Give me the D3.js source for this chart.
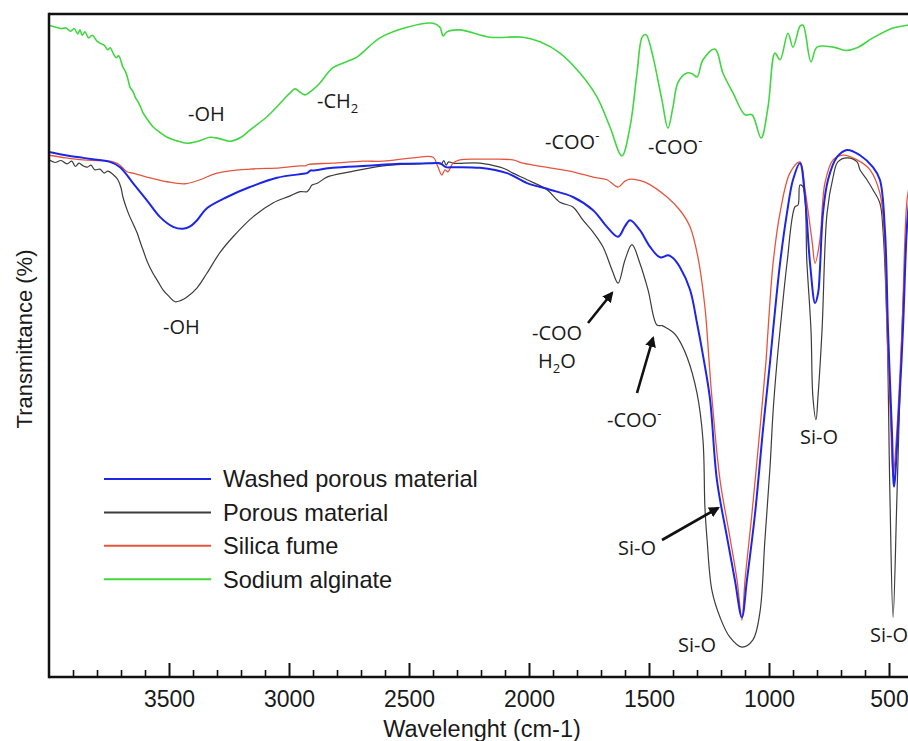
<!DOCTYPE html>
<html>
<head>
<meta charset="utf-8">
<script src="https://cdn.jsdelivr.net/npm/d3@7/dist/d3.min.js"></script>
<style>
  html, body { margin: 0; padding: 0; background: #fff; }
  svg { display: block; }
</style>
</head>
<body>
<svg id="chart" width="908" height="741"></svg>
<script>
// ---------------- DATA (wavenumber cm-1, transmittance %) ----------------
const seriesNames = ["Washed porous material", "Porous material", "Silica fume", "Sodium alginate"];

const sodiumAlginate = [
  [4000, 98.3], [3970, 98.0], [3950, 97.8], [3930, 97.9], [3910, 97.4], [3895, 97.8], [3880, 97.0],
  [3871, 97.6], [3862, 96.8], [3850, 97.3], [3835, 96.4], [3820, 96.8], [3800, 95.9], [3788, 95.6],
  [3770, 95.3], [3755, 94.6], [3745, 94.9], [3733, 94.1], [3720, 93.4], [3710, 93.7], [3692, 92.0],
  [3680, 91.2], [3670, 90.0], [3663, 89.0], [3650, 88.3], [3640, 87.4], [3633, 87.0], [3620, 86.1],
  [3608, 85.1], [3590, 84.1], [3567, 83.0], [3540, 82.2], [3508, 81.4], [3470, 80.9], [3425, 80.5],
  [3380, 80.8], [3329, 81.4], [3290, 81.2], [3246, 80.8], [3200, 81.4], [3163, 82.5], [3092, 84.5],
  [3025, 87.0], [2990, 88.3], [2975, 88.7], [2950, 88.1], [2933, 87.8], [2900, 88.6], [2871, 89.6],
  [2817, 91.9], [2760, 92.8], [2717, 93.5], [2621, 96.4], [2508, 98.0], [2400, 98.6], [2371, 98.0],
  [2358, 96.7], [2342, 97.3], [2288, 97.6], [2163, 96.5], [2025, 96.5], [1954, 95.8], [1871, 94.1],
  [1788, 91.1], [1717, 87.5], [1663, 83.0], [1613, 78.6], [1579, 83.0], [1550, 91.1], [1529, 96.5],
  [1515, 96.9], [1508, 96.7], [1483, 93.5], [1446, 87.0], [1421, 82.8], [1400, 86.0], [1379, 89.7],
  [1342, 91.1], [1320, 91.0], [1300, 90.5], [1275, 93.1], [1225, 94.7], [1192, 91.1], [1150, 88.1],
  [1100, 84.8], [1071, 84.8], [1033, 81.3], [1004, 86.0], [975, 94.1], [954, 93.1], [921, 97.1],
  [900, 95.0], [870, 98.2], [858, 98.3], [825, 92.8], [800, 95.0], [733, 95.0], [680, 94.5],
  [633, 94.9], [567, 96.4], [483, 97.9], [425, 98.3], [400, 98.5]
];

const porousMaterial = [
  [4000, 78.0], [3975, 77.6], [3950, 77.9], [3925, 77.4], [3905, 77.8], [3890, 77.0], [3875, 77.5],
  [3858, 77.1], [3840, 76.9], [3825, 77.2], [3810, 76.5], [3788, 76.6], [3770, 76.0], [3755, 76.3],
  [3733, 75.8], [3713, 75.0], [3700, 73.8], [3692, 72.4], [3675, 70.5], [3663, 69.4], [3645, 68.0],
  [3633, 67.0], [3620, 65.6], [3608, 64.4], [3590, 62.6], [3567, 60.9], [3545, 59.6], [3525, 58.4],
  [3500, 57.4], [3475, 56.6], [3450, 56.8], [3425, 57.3], [3383, 58.7], [3342, 60.9], [3288, 64.0],
  [3233, 66.4], [3150, 69.4], [3067, 71.5], [3000, 72.5], [2954, 73.2], [2925, 73.2], [2915, 73.6],
  [2904, 74.2], [2880, 74.5], [2842, 75.4], [2746, 76.2], [2608, 77.1], [2467, 77.4], [2383, 77.5],
  [2365, 77.4], [2355, 77.9], [2345, 77.2], [2335, 77.7], [2317, 77.5], [2204, 77.5], [2121, 76.9],
  [2092, 76.5], [2067, 76.0], [2008, 75.0], [1925, 73.5], [1871, 71.6], [1817, 70.9], [1775, 68.9],
  [1733, 67.1], [1692, 64.9], [1654, 61.4], [1629, 59.4], [1600, 62.9], [1571, 65.2], [1538, 62.4],
  [1504, 58.4], [1467, 53.1], [1445, 53.0], [1425, 52.6], [1400, 52.0], [1383, 51.3], [1342, 48.3],
  [1300, 42.8], [1275, 35.7], [1267, 25.6], [1258, 20.7], [1238, 13.1], [1204, 9.0], [1163, 6.0],
  [1113, 4.5], [1067, 5.6], [1038, 9.7], [1017, 20.7], [996, 31.5], [983, 40.0], [967, 47.4],
  [954, 52.3], [925, 62.4], [892, 70.9], [879, 71.2], [871, 74.2], [858, 73.9], [842, 62.4],
  [825, 52.3], [817, 42.2], [804, 38.8], [796, 42.2], [779, 52.3], [758, 70.0], [733, 75.4],
  [713, 77.7], [675, 78.3], [633, 77.7], [621, 76.5], [592, 75.0], [567, 73.5], [538, 71.5],
  [525, 67.4], [508, 52.3], [496, 27.1], [483, 9.0], [467, 27.1], [446, 52.3], [425, 68.0], [410, 74.0]
];

const washedPorousMaterial = [
  [4000, 79.2], [3930, 78.7], [3858, 78.3], [3800, 78.0], [3746, 77.7], [3704, 76.9], [3650, 74.5],
  [3592, 71.9], [3538, 69.4], [3483, 67.9], [3442, 67.6], [3410, 68.0], [3383, 68.9], [3342, 70.7],
  [3258, 72.4], [3163, 73.9], [3050, 75.3], [2940, 75.9], [2925, 76.0], [2910, 76.4], [2900, 76.4],
  [2817, 76.8], [2675, 77.1], [2538, 77.4], [2400, 77.5], [2371, 77.5], [2345, 76.9], [2317, 76.9],
  [2204, 76.8], [2092, 76.0], [2008, 74.5], [1913, 73.5], [1817, 72.4], [1733, 70.4], [1675, 67.9],
  [1629, 66.4], [1600, 68.0], [1579, 68.9], [1538, 67.4], [1496, 64.9], [1454, 63.3], [1420, 63.6],
  [1400, 63.2], [1371, 61.8], [1329, 58.4], [1300, 53.4], [1275, 48.5], [1246, 42.0], [1217, 29.7],
  [1175, 21.1], [1142, 14.6], [1113, 9.0], [1092, 14.6], [1058, 24.7], [1025, 37.3], [996, 47.4],
  [983, 52.3], [954, 62.4], [925, 70.0], [900, 75.0], [871, 77.5], [850, 72.4], [829, 62.4],
  [808, 56.4], [795, 58.0], [788, 61.4], [775, 70.0], [754, 75.0], [717, 78.4], [675, 79.5],
  [621, 78.7], [567, 76.9], [538, 75.0], [517, 67.4], [504, 52.3], [488, 37.3], [479, 28.7],
  [463, 37.3], [442, 52.3], [425, 68.0], [410, 74.0]
];

const silicaFume = [
  [4000, 78.7], [3930, 78.3], [3858, 78.0], [3790, 77.9], [3733, 77.7], [3704, 77.2], [3675, 76.2],
  [3650, 76.0], [3620, 75.7], [3579, 75.3], [3508, 74.7], [3433, 74.4], [3371, 75.0], [3300, 76.0],
  [3163, 76.6], [3038, 76.8], [2954, 77.1], [2930, 77.1], [2921, 77.3], [2817, 77.5], [2692, 77.8],
  [2608, 77.8], [2483, 78.3], [2400, 78.4], [2379, 76.9], [2363, 75.7], [2350, 76.5], [2338, 76.2],
  [2317, 77.5], [2288, 78.0], [2204, 78.1], [2163, 78.1], [2067, 78.0], [2025, 77.5], [1913, 76.8],
  [1817, 76.2], [1733, 75.4], [1675, 75.0], [1629, 73.9], [1600, 74.8], [1579, 75.1], [1540, 74.9],
  [1508, 74.5], [1425, 72.4], [1371, 70.4], [1329, 67.9], [1296, 63.3], [1267, 55.8], [1250, 47.8],
  [1238, 42.2], [1204, 29.7], [1163, 21.1], [1133, 14.6], [1113, 8.6], [1100, 14.6], [1071, 24.7],
  [1038, 37.3], [1013, 47.4], [1004, 52.3], [983, 62.4], [954, 70.0], [913, 76.0], [871, 77.7],
  [850, 73.5], [821, 65.9], [808, 62.4], [788, 65.9], [767, 74.5], [733, 78.0], [692, 78.7],
  [633, 78.0], [579, 76.5], [538, 73.0], [521, 67.4], [508, 52.3], [492, 37.3], [483, 30.2],
  [467, 37.3], [446, 52.3], [425, 71.9], [410, 75.0]
];

const majorTicks = [3500, 3000, 2500, 2000, 1500, 1000, 500];
const minorTicks = [3900, 3800, 3700, 3600, 3400, 3300, 3200, 3100, 2900, 2800, 2700, 2600,
                    2400, 2300, 2200, 2100, 1900, 1800, 1700, 1600, 1400, 1300, 1200, 1100,
                    900, 800, 700, 600];
const xTitle = "Wavelenght (cm-1)";
const yTitle = "Transmittance (%)";

// ---------------- LAYOUT / STYLE ----------------
const W = 908, H = 741;
const plot = { left: 49, top: 14, right: 913, bottom: 677 };
const colors = {
  "Washed porous material": "#1e26e6",
  "Porous material": "#3c3c3c",
  "Silica fume": "#e5553e",
  "Sodium alginate": "#42d642"
};
const widths = {
  "Washed porous material": 2.0,
  "Porous material": 1.2,
  "Silica fume": 1.3,
  "Sodium alginate": 1.6
};
const dataByName = {
  "Washed porous material": washedPorousMaterial,
  "Porous material": porousMaterial,
  "Silica fume": silicaFume,
  "Sodium alginate": sodiumAlginate
};
const drawOrder = ["Sodium alginate", "Porous material", "Silica fume", "Washed porous material"];
const sansFont = "'Liberation Sans', Arial, Helvetica, sans-serif";
const annoFont = "'Open Sans', 'Noto Sans', sans-serif";

const svg = d3.select("#chart");

const x = d3.scaleLinear().domain([4000, 400]).range([plot.left, plot.right]);
const y = d3.scaleLinear().domain([0, 100]).range([plot.bottom, plot.top]);

svg.append("defs").append("clipPath").attr("id", "clip")
  .append("rect")
  .attr("x", plot.left).attr("y", plot.top)
  .attr("width", plot.right - plot.left).attr("height", plot.bottom - plot.top);

const line = d3.line()
  .x(d => x(d[0]))
  .y(d => y(d[1]))
  .curve(d3.curveCatmullRom.alpha(0.5));

const gLines = svg.append("g").attr("clip-path", "url(#clip)");
drawOrder.forEach(name => {
  gLines.append("path")
    .datum(dataByName[name])
    .attr("d", line)
    .attr("fill", "none")
    .attr("stroke", colors[name])
    .attr("stroke-width", widths[name])
    .attr("stroke-linejoin", "round");
});

// ---------------- AXES ----------------
const gMinor = svg.append("g").attr("transform", `translate(0,${plot.bottom})`)
  .call(d3.axisBottom(x).tickValues(minorTicks).tickSize(-7).tickFormat(""));
gMinor.select(".domain").remove();
gMinor.selectAll("line").attr("stroke", "#111").attr("stroke-width", 1.6);

const gMajor = svg.append("g").attr("transform", `translate(0,${plot.bottom})`)
  .call(d3.axisBottom(x).tickValues(majorTicks).tickSize(-14).tickFormat(d3.format("d")));
gMajor.select(".domain").remove();
gMajor.selectAll("line").attr("stroke", "#111").attr("stroke-width", 2);
gMajor.selectAll("text")
  .attr("y", 30).attr("dy", 0)
  .attr("fill", "#1a1a1a")
  .style("font-family", sansFont)
  .style("font-size", "23px");

// frame
svg.append("line").attr("x1", plot.left).attr("x2", W).attr("y1", plot.top).attr("y2", plot.top)
  .attr("stroke", "#111").attr("stroke-width", 2.5);
svg.append("line").attr("x1", plot.left).attr("x2", plot.left).attr("y1", plot.top - 1.2).attr("y2", plot.bottom + 1.2)
  .attr("stroke", "#111").attr("stroke-width", 2.5);
svg.append("line").attr("x1", plot.left).attr("x2", W).attr("y1", plot.bottom).attr("y2", plot.bottom)
  .attr("stroke", "#111").attr("stroke-width", 2.5);

// titles
svg.append("text").attr("x", 482).attr("y", 737).attr("text-anchor", "middle")
  .style("font-family", sansFont).style("font-size", "23.5px").attr("fill", "#1a1a1a")
  .text(xTitle);
svg.append("text").attr("transform", "translate(32,339) rotate(-90)").attr("text-anchor", "middle")
  .style("font-family", sansFont).style("font-size", "22px").attr("fill", "#1a1a1a")
  .text(yTitle);

// ---------------- LEGEND ----------------
const legend = { x1: 104, x2: 211, textX: 223, y0: 479, step: 33.4 };
seriesNames.forEach((name, i) => {
  const ly = legend.y0 + i * legend.step;
  svg.append("line").attr("x1", legend.x1).attr("x2", legend.x2).attr("y1", ly).attr("y2", ly)
    .attr("stroke", colors[name]).attr("stroke-width", 2);
  svg.append("text").attr("x", legend.textX).attr("y", ly).attr("dy", "0.36em")
    .style("font-family", sansFont).style("font-size", "23.6px").attr("fill", "#1a1a1a")
    .text(name);
});

// ---------------- ANNOTATIONS ----------------
const annotations = [
  { parts: [["-OH"]], x: 188, y: 121 },
  { parts: [["-CH"], ["2", "sub"]], x: 317, y: 108 },
  { parts: [["-COO"], ["-", "sup"]], x: 545, y: 149 },
  { parts: [["-COO"], ["-", "sup"]], x: 648, y: 154 },
  { parts: [["-OH"]], x: 163, y: 334 },
  { parts: [["-COO"]], x: 532, y: 340 },
  { parts: [["H"], ["2", "sub"], ["O", "back"]], x: 538, y: 368 },
  { parts: [["-COO"], ["-", "sup"]], x: 607, y: 427 },
  { parts: [["Si-O"]], x: 618, y: 555 },
  { parts: [["Si-O"]], x: 678, y: 652 },
  { parts: [["Si-O"]], x: 800, y: 444 },
  { parts: [["Si-O"]], x: 870, y: 642 }
];
annotations.forEach(a => {
  const t = svg.append("text").attr("x", a.x).attr("y", a.y)
    .style("font-family", annoFont).style("font-size", "20px").attr("fill", "#1a1a1a");
  let shift = 0;
  a.parts.forEach(p => {
    const ts = t.append("tspan").text(p[0]);
    if (p[1] === "sub") { ts.attr("dy", 5).style("font-size", "13px"); shift = 5; }
    else if (p[1] === "sup") { ts.attr("dy", -9).style("font-size", "13px"); }
    else if (p[1] === "back") { ts.attr("dy", -shift); }
  });
});

// arrows
svg.select("defs").append("marker")
  .attr("id", "arrow").attr("viewBox", "0 0 10 10").attr("refX", 8).attr("refY", 5)
  .attr("markerWidth", 4.2).attr("markerHeight", 4.2).attr("orient", "auto")
  .append("path").attr("d", "M0,0 L10,5 L0,10 z").attr("fill", "#111");
const arrows = [
  { x1: 588, y1: 323, x2: 612, y2: 293 },
  { x1: 637, y1: 393, x2: 653, y2: 338 },
  { x1: 662, y1: 540, x2: 718, y2: 508 }
];
arrows.forEach(a => {
  svg.append("line").attr("x1", a.x1).attr("y1", a.y1).attr("x2", a.x2).attr("y2", a.y2)
    .attr("stroke", "#111").attr("stroke-width", 2.6).attr("marker-end", "url(#arrow)");
});
</script>
</body>
</html>
